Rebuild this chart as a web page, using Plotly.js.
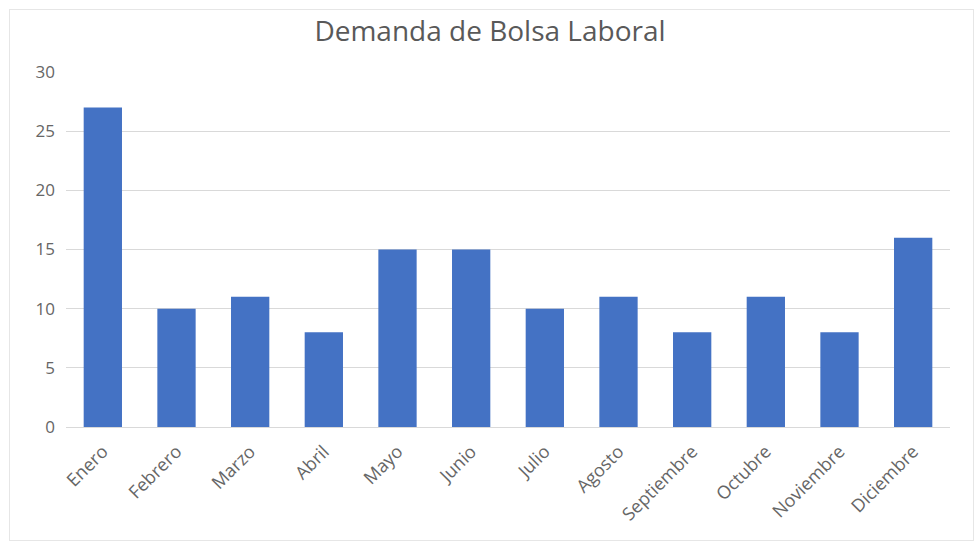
<!DOCTYPE html>
<html>
<head>
<meta charset="utf-8">
<script src="https://cdn.plot.ly/plotly-3.0.1.min.js"></script>
<style>
html,body{margin:0;padding:0;background:#fff;}
#chart{width:980px;height:546px;}
#frame{position:absolute;left:9px;top:9px;width:963px;height:530px;border:1px solid #e6e6e6;pointer-events:none;}
</style>
</head>
<body>
<div id="chart"></div>
<div id="frame"></div>
<script>
const months = ["Enero","Febrero","Marzo","Abril","Mayo","Junio","Julio","Agosto","Septiembre","Octubre","Noviembre","Diciembre"];
const demand = [27,10,11,8,15,15,10,11,8,11,8,16];
const yTicks = [0,5,10,15,20,25,30];

Plotly.newPlot('chart', [{
  type: 'bar',
  x: months,
  y: demand,
  marker: {color: '#4472C4'},
  hoverinfo: 'x+y'
}], {
  width: 980, height: 546,
  margin: {l: 66, r: 30, t: 72, b: 119},
  paper_bgcolor: '#fff', plot_bgcolor: '#fff',
  bargap: 0.48,
  title: {text: 'Demanda de Bolsa Laboral', x: 0.5, xanchor: 'center', y: 0.942, yanchor: 'middle',
          font: {family: 'Open Sans, sans-serif', size: 28, color: '#595959'}},
  font: {family: 'Open Sans, sans-serif', color: '#595959', size: 16},
  xaxis: {tickangle: -45, showgrid: false, showline: true, linecolor: '#d9d9d9', ticks: '',
          ticklabelstandoff: 6, tickfont: {size: 18, color: '#666666'}},
  yaxis: {range: [0, 30], tickvals: yTicks, showgrid: true, gridcolor: '#d9d9d9', zeroline: false,
          ticks: '', ticklen: 0, ticklabelstandoff: 10, tickfont: {size: 17, color: '#666666'}, fixedrange: true},
  showlegend: false
}, {displayModeBar: false, staticPlot: true});
</script>
</body>
</html>
